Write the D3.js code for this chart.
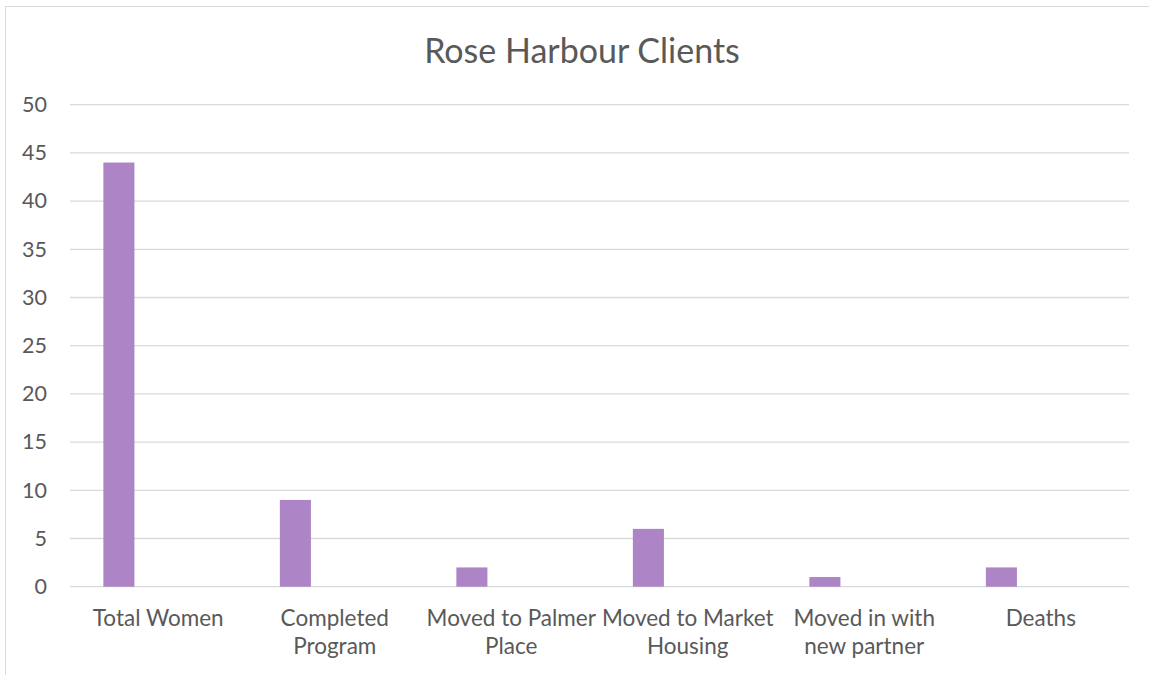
<!DOCTYPE html>
<html>
<head>
<meta charset="utf-8">
<script src="https://cdn.jsdelivr.net/npm/d3@7"></script>
<style>
  body { margin: 0; background: #fff; }
  text { font-family: Lato, "Open Sans", sans-serif; fill: #595959; }
</style>
</head>
<body>
<div id="chart"></div>
<script>
// data
var categories = ['Total Women', 'Completed Program', 'Moved to Palmer Place',
    'Moved to Market Housing', 'Moved in with new partner', 'Deaths'];
var labelLines = [['Total Women'], ['Completed', 'Program'], ['Moved to Palmer', 'Place'],
    ['Moved to Market', 'Housing'], ['Moved in with', 'new partner'], ['Deaths']];
var clients = [44, 9, 2, 6, 1, 2];
var yTicks = [0, 5, 10, 15, 20, 25, 30, 35, 40, 45, 50];

var W = 1149, H = 675;
var margin = { top: 104.7, left: 70, bottom: 88.3, right: 20 },
    width = W - margin.left - margin.right,
    height = H - margin.top - margin.bottom;

var root = d3.select('#chart').append('svg')
    .attr('width', W)
    .attr('height', H);

// chart area border
root.append('rect')
    .attr('x', 5.5).attr('y', 6.5)
    .attr('width', W).attr('height', H)
    .attr('fill', 'none')
    .attr('stroke', '#d9d9d9');

root.append('text')
    .attr('x', 582)
    .attr('y', 62.5)
    .attr('text-anchor', 'middle')
    .style('font-size', '34px')
    .text('Rose Harbour Clients');

var svg = root.append('g')
    .attr('transform', 'translate(' + margin.left + ',' + margin.top + ')');

var x = d3.scaleBand()
    .domain(categories)
    .range([0, width]);

var y = d3.scaleLinear()
    .domain([0, 50])
    .range([height, 0]);

// gridlines
svg.selectAll('.grid')
    .data(yTicks)
    .enter()
    .append('line')
    .attr('class', 'grid')
    .attr('x1', 0)
    .attr('x2', width)
    .attr('y1', d => y(d))
    .attr('y2', d => y(d))
    .attr('stroke', '#d9d9d9')
    .attr('stroke-width', 1.3);

// y labels
var yAxis = d3.axisLeft(y).tickValues(yTicks).tickSize(0).tickPadding(23);
svg.append('g')
    .attr('class', 'axis')
    .call(yAxis)
    .call(g => g.select('.domain').remove())
    .selectAll('text')
    .style('font-size', '21.5px')
    .style('font-family', 'Lato, sans-serif')
    .attr('fill', '#595959');

// bars
svg.selectAll('.bar')
    .data(clients)
    .enter()
    .append('rect')
    .attr('class', 'bar')
    .attr('x', (d, i) => x(categories[i]) + x.bandwidth() * 0.189)
    .attr('y', d => y(d))
    .attr('width', x.bandwidth() * 0.176)
    .attr('height', d => height - y(d))
    .attr('fill', '#ad84c6');

// x labels
var labels = svg.selectAll('.xlabel')
    .data(categories)
    .enter()
    .append('text')
    .attr('class', 'xlabel')
    .attr('text-anchor', 'middle')
    .attr('transform', d => 'translate(' + (x(d) + x.bandwidth() / 2) + ',' + (height + 39) + ')')
    .style('font-size', '22.5px');

labels.selectAll('tspan')
    .data((d, i) => labelLines[i])
    .enter()
    .append('tspan')
    .attr('x', 0)
    .attr('dy', (d, i) => i === 0 ? 0 : 28)
    .text(d => d);
</script>
</body>
</html>
